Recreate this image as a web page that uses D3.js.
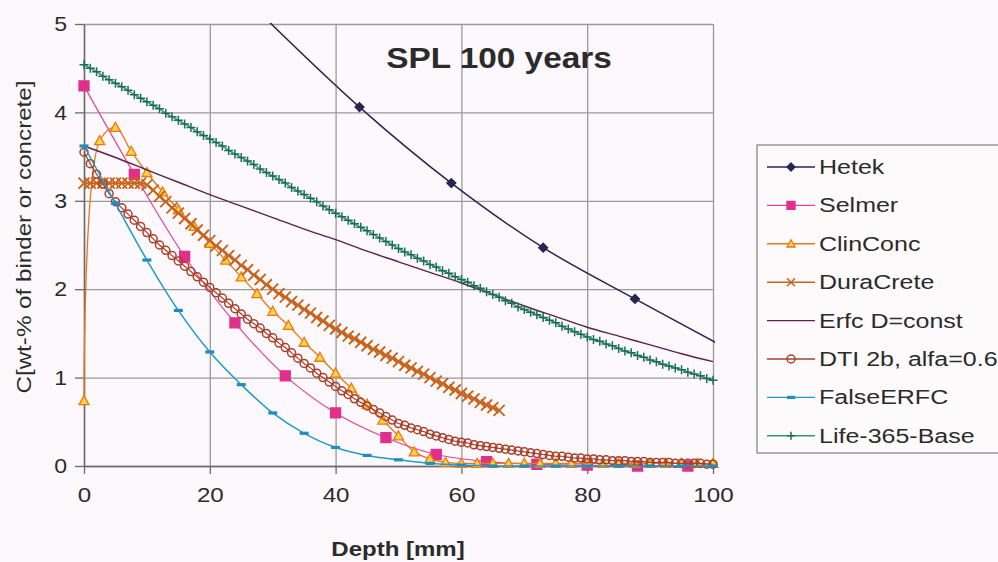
<!DOCTYPE html>
<html><head><meta charset="utf-8">
<script src="https://cdn.jsdelivr.net/npm/d3@7"></script>
<style>
body{margin:0;background:#fcf8fb}
svg{display:block}
text{font-family:"Liberation Sans",Arial,Helvetica,sans-serif;fill:#2b2b2b}
</style>
</head><body>
<svg id="c" width="998" height="562"></svg>
<script>
// ---------- data ----------
const title = "SPL 100 years";
const xLabel = "Depth [mm]";
const yLabel = "C[wt-% of binder or concrete]";
const xTicks = [0, 20, 40, 60, 80, 100];
const yTicks = [0, 1, 2, 3, 4, 5];
const seriesNames = ["Hetek","Selmer","ClinConc","DuraCrete","Erfc D=const","DTI 2b, alfa=0.6","FalseERFC","Life-365-Base"];

const depth1 = [0,1,2,3,4,5,6,7,8,9,10,11,12,13,14,15,16,17,18,19,20,21,22,23,24,25,26,27,28,29,30,31,32,33,34,35,36,37,38,39,40,41,42,43,44,45,46,47,48,49,50,51,52,53,54,55,56,57,58,59,60,61,62,63,64,65,66,67,68,69,70,71,72,73,74,75,76,77,78,79,80,81,82,83,84,85,86,87,88,89,90,91,92,93,94,95,96,97,98,99,100];
const depth5 = [0,5,10,15,20,25,30,35,40,45,50,55,60,65,70,75,80,85,90,95,100];
const depth25 = [0,2.5,5,7.5,10,12.5,15,17.5,20,22.5,25,27.5,30,32.5,35,37.5,40,42.5,45,47.5,50,52.5,55,57.5,60,62.5,65,67.5,70,72.5,75,77.5,80,82.5,85,87.5,90,92.5,95,97.5,100];
const depthHetek = [29.2,43.8,58.4,73.0,87.6,102.2];
const depthSelmer = [0,8,16,24,32,40,48,56,64,72,80,88,96];
const depthDura = [0,1,2,3,4,5,6,7,8,9,10,11,12,13,14,15,16,17,18,19,20,21,22,23,24,25,26,27,28,29,30,31,32,33,34,35,36,37,38,39,40,41,42,43,44,45,46,47,48,49,50,51,52,53,54,55,56,57,58,59,60,61,62,63,64,65,66];

const hetek = [5.04,4.06,3.20,2.47,1.89,1.33];
const selmer = [4.30,3.30,2.37,1.62,1.02,0.60,0.32,0.13,0.05,0.02,0.01,0.00,0.00];
const clinConc = [0.74,3.68,3.83,3.56,3.32,3.10,2.90,2.71,2.52,2.33,2.14,1.95,1.75,1.59,1.40,1.23,1.05,0.88,0.70,0.52,0.34,0.16,0.08,0.04,0.03,0.03,0.03,0.03,0.03,0.03,0.03,0.03,0.03,0.03,0.03,0.03,0.03,0.03,0.03,0.03,0.03];
const duraCrete = [3.20,3.20,3.20,3.20,3.20,3.20,3.20,3.20,3.20,3.20,
 3.18,3.12,3.05,2.99,2.92,2.86,2.80,2.74,2.67,2.61,
 2.55,2.49,2.44,2.38,2.33,2.27,2.22,2.16,2.11,2.05,
 2.00,1.95,1.91,1.86,1.82,1.77,1.73,1.68,1.64,1.59,
 1.55,1.51,1.47,1.44,1.40,1.36,1.32,1.29,1.25,1.22,
 1.18,1.14,1.11,1.07,1.04,1.00,0.96,0.93,0.89,0.86,
 0.82,0.79,0.76,0.72,0.69,0.66,0.63];
const erfc = [3.62,3.49,3.35,3.21,3.07,2.94,2.81,2.68,2.56,2.43,2.31,2.19,2.07,1.94,1.81,1.69,1.57,1.47,1.37,1.27,1.18];
const dti = [3.55,3.42,3.30,3.19,3.08,2.99,2.92,2.85,2.78,2.71,
 2.64,2.57,2.50,2.44,2.38,2.32,2.26,2.20,2.14,2.08,
 2.02,1.96,1.90,1.84,1.78,1.72,1.66,1.61,1.56,1.50,
 1.45,1.39,1.34,1.28,1.22,1.16,1.11,1.05,1.00,0.95,
 0.90,0.85,0.81,0.76,0.72,0.68,0.64,0.60,0.56,0.52,
 0.48,0.46,0.43,0.41,0.39,0.36,0.34,0.32,0.30,0.28,
 0.27,0.26,0.24,0.23,0.22,0.21,0.20,0.19,0.18,0.17,
 0.16,0.15,0.14,0.13,0.12,0.11,0.11,0.10,0.09,0.09,
 0.08,0.08,0.07,0.07,0.06,0.06,0.06,0.05,0.05,0.05,
 0.04,0.04,0.04,0.04,0.03,0.03,0.03,0.03,0.03,0.02,0.02];
const falseErfc = [3.62,2.97,2.33,1.76,1.29,0.92,0.60,0.37,0.21,0.12,0.07,0.03,0.01,0,0,0,0,0,0,0,0];
const life365 = [4.54,4.50,4.46,4.41,4.37,4.33,4.29,4.25,4.20,4.16,
 4.12,4.08,4.04,3.99,3.95,3.91,3.87,3.83,3.78,3.74,
 3.70,3.66,3.62,3.57,3.53,3.49,3.45,3.41,3.36,3.32,
 3.28,3.24,3.20,3.15,3.11,3.07,3.03,2.99,2.94,2.90,
 2.86,2.82,2.78,2.74,2.70,2.66,2.62,2.58,2.54,2.50,
 2.46,2.42,2.39,2.35,2.32,2.28,2.25,2.21,2.18,2.14,
 2.11,2.08,2.04,2.01,1.97,1.94,1.91,1.87,1.84,1.80,
 1.77,1.74,1.71,1.68,1.65,1.62,1.58,1.55,1.52,1.49,
 1.46,1.43,1.41,1.38,1.36,1.33,1.30,1.28,1.25,1.23,
 1.20,1.18,1.15,1.13,1.11,1.09,1.06,1.04,1.02,0.99,0.97];

// ---------- styles ----------
const styles = [
  {name:seriesNames[0], x:depthHetek, y:hetek, line:"#262652", lw:1.5, marker:"diamond", mc:"#262652", mf:"#262652", ms:9, mw:1.3},
  {name:seriesNames[1], x:depthSelmer, y:selmer, line:"#e0449a", lw:1.2, marker:"square", mc:"#e0308c", mf:"#e0308c", ms:10, mw:1.3},
  {name:seriesNames[2], x:depth25, y:clinConc, line:"#e8781a", lw:1.3, marker:"triangle", mc:"#ec7a10", mf:"#ffd24a", ms:10, mw:1.3},
  {name:seriesNames[3], x:depthDura, y:duraCrete, line:"#c8641e", lw:1.8, marker:"cross", mc:"#c8641e", mf:"none", ms:11, mw:1.9},
  {name:seriesNames[4], x:depth5, y:erfc, line:"#5e2050", lw:1.4, marker:null},
  {name:seriesNames[5], x:depth1, y:dti, line:"#a8402a", lw:1.2, marker:"circle", mc:"#a8402a", mf:"none", ms:8, mw:1.5},
  {name:seriesNames[6], x:depth5, y:falseErfc, line:"#1e9ccc", lw:1.5, marker:"dash", mc:"#1e8ec0", mf:"none", ms:9, mw:3.2},
  {name:seriesNames[7], x:depth1, y:life365, line:"#2e9a78", lw:1.5, marker:"plus", mc:"#1d6e52", mf:"none", ms:9, mw:1.5}
];

// ---------- layout ----------
const svg = d3.select("#c");
const X0=84, X1=713, Y0=466, Y1=24;
const x = d3.scaleLinear().domain([0,100]).range([X0,X1]);
const y = d3.scaleLinear().domain([0,5]).range([Y0,Y1]);

svg.append("rect").attr("width",998).attr("height",562).attr("fill","#fcf8fb");

function stretch(sel, f){
  sel.each(function(){
    const w = this.getComputedTextLength();
    d3.select(this).attr("textLength", w*f).attr("lengthAdjust","spacingAndGlyphs");
  });
}

// gridlines
const grid = svg.append("g");
grid.append("g").attr("transform",`translate(0,${Y0})`)
  .call(d3.axisBottom(x).tickValues(xTicks).tickSize(-(Y0-Y1)).tickFormat(""))
  .call(g=>g.select(".domain").remove())
  .call(g=>g.selectAll("line").attr("stroke","#9a9a9a").attr("stroke-width",1.3));
grid.append("g").attr("transform",`translate(${X0},0)`)
  .call(d3.axisLeft(y).tickValues(yTicks).tickSize(-(X1-X0)).tickFormat(""))
  .call(g=>g.select(".domain").remove())
  .call(g=>g.selectAll("line").attr("stroke","#9a9a9a").attr("stroke-width",1.3));

// axes
const ax = svg.append("g").attr("transform",`translate(0,${Y0})`)
  .call(d3.axisBottom(x).tickValues(xTicks).tickFormat(d3.format("d")).tickSize(8).tickSizeOuter(0).tickPadding(13));
const ay = svg.append("g").attr("transform",`translate(${X0},0)`)
  .call(d3.axisLeft(y).tickValues(yTicks).tickFormat(d3.format("d")).tickSize(9).tickSizeOuter(0).tickPadding(8));
[ax,ay].forEach(a=>{
  a.select(".domain").attr("stroke","#6a6a6a").attr("stroke-width",1.5);
  a.selectAll("line").attr("stroke","#6a6a6a").attr("stroke-width",1.3);
  a.selectAll("text").attr("font-size",21).attr("fill","#333").attr("font-family",null);
});
ax.selectAll("text").attr("dy","0.71em");
stretch(ax.selectAll("text"),1.15);
stretch(ay.selectAll("text"),1.1);

// clip
svg.append("clipPath").attr("id","clip").append("rect")
  .attr("x",X0-2).attr("y",Y1-1).attr("width",X1-X0+4).attr("height",Y0-Y1+3);

const plot = svg.append("g");

function markerPath(type, s){
  const h=s/2;
  switch(type){
    case "diamond": return `M0,${-h}L${h},0L0,${h}L${-h},0Z`;
    case "square": return `M${-h},${-h}H${h}V${h}H${-h}Z`;
    case "triangle": return `M0,${-h}L${h},${h*0.8}L${-h},${h*0.8}Z`;
    case "cross": return `M${-h},${-h}L${h},${h}M${-h},${h}L${h},${-h}`;
    case "plus": return `M${-h},0H${h}M0,${-h}V${h}`;
    case "dash": return `M${-h},0H${h}`;
    case "circle": return `M${h},0A${h},${h} 0 1,1 ${-h},0A${h},${h} 0 1,1 ${h},0Z`;
  }
}
function styleMarker(sel, s, legend){
  const w = legend ? Math.min(s.mw,1.5) : s.mw;
  if(s.marker==="dash"){ sel.attr("fill","none").attr("stroke",s.mc).attr("stroke-width",3.2); }
  else if(s.marker==="cross"||s.marker==="plus"||s.marker==="circle"){ sel.attr("fill","none").attr("stroke",s.mc).attr("stroke-width",w); }
  else { sel.attr("fill",s.mf).attr("stroke",s.mc).attr("stroke-width",w); }
}
function drawMarkers(g, s, pts){
  if(!s.marker) return;
  const path = markerPath(s.marker, s.ms);
  const sel = g.selectAll("path.m").data(pts).join("path").attr("class","m")
    .attr("transform",d=>`translate(${x(d[0])},${y(d[1])})`)
    .attr("d",path);
  styleMarker(sel, s, false);
}

const line = d3.line().x(d=>x(d[0])).y(d=>y(d[1])).curve(d3.curveCatmullRom.alpha(0.5));
styles.forEach(s=>{
  const pts = s.x.map((d,i)=>[d, s.y[i]]);
  const g = plot.append("g");
  g.append("path").attr("clip-path","url(#clip)").attr("d",line(pts))
    .attr("fill","none").attr("stroke",s.line).attr("stroke-width",s.lw);
  drawMarkers(g, s, pts.filter(p=>p[0]>=0&&p[0]<=100&&p[1]>=0&&p[1]<=5));
});

// title
const t = svg.append("text").attr("x",499).attr("y",68).attr("text-anchor","middle")
  .attr("font-size",29).attr("font-weight","bold").attr("fill","#222").text(title);
stretch(t,1.15);

// x label
const xl = svg.append("text").attr("x",398).attr("y",556).attr("text-anchor","middle")
  .attr("font-size",20).attr("font-weight","bold").attr("fill","#333").text(xLabel);
stretch(xl,1.2);

// y label
svg.append("text").attr("transform","translate(31,237) rotate(-90)").attr("text-anchor","middle")
  .attr("font-size",20).attr("fill","#333").attr("textLength",313).attr("lengthAdjust","spacingAndGlyphs").text(yLabel);

// legend
const lg = svg.append("g");
lg.append("rect").attr("x",757).attr("y",145).attr("width",260).attr("height",308)
  .attr("fill","#fdfafc").attr("stroke","#8a8a8a").attr("stroke-width",1.3);
styles.forEach((s,i)=>{
  const cy = 167 + i*38.4;
  const g = lg.append("g");
  g.append("line").attr("x1",767).attr("x2",815).attr("y1",cy).attr("y2",cy)
    .attr("stroke",s.line).attr("stroke-width",1.4);
  if(s.marker){
    const m = g.append("path").attr("transform",`translate(791,${cy})`).attr("d",markerPath(s.marker, Math.min(s.ms,8)));
    styleMarker(m, s, true);
  }
  const tx = g.append("text").attr("x",819).attr("y",cy+7).attr("font-size",20).attr("fill","#2b2b2b").text(s.name);
  stretch(tx,1.25);
});
</script>
</body></html>
